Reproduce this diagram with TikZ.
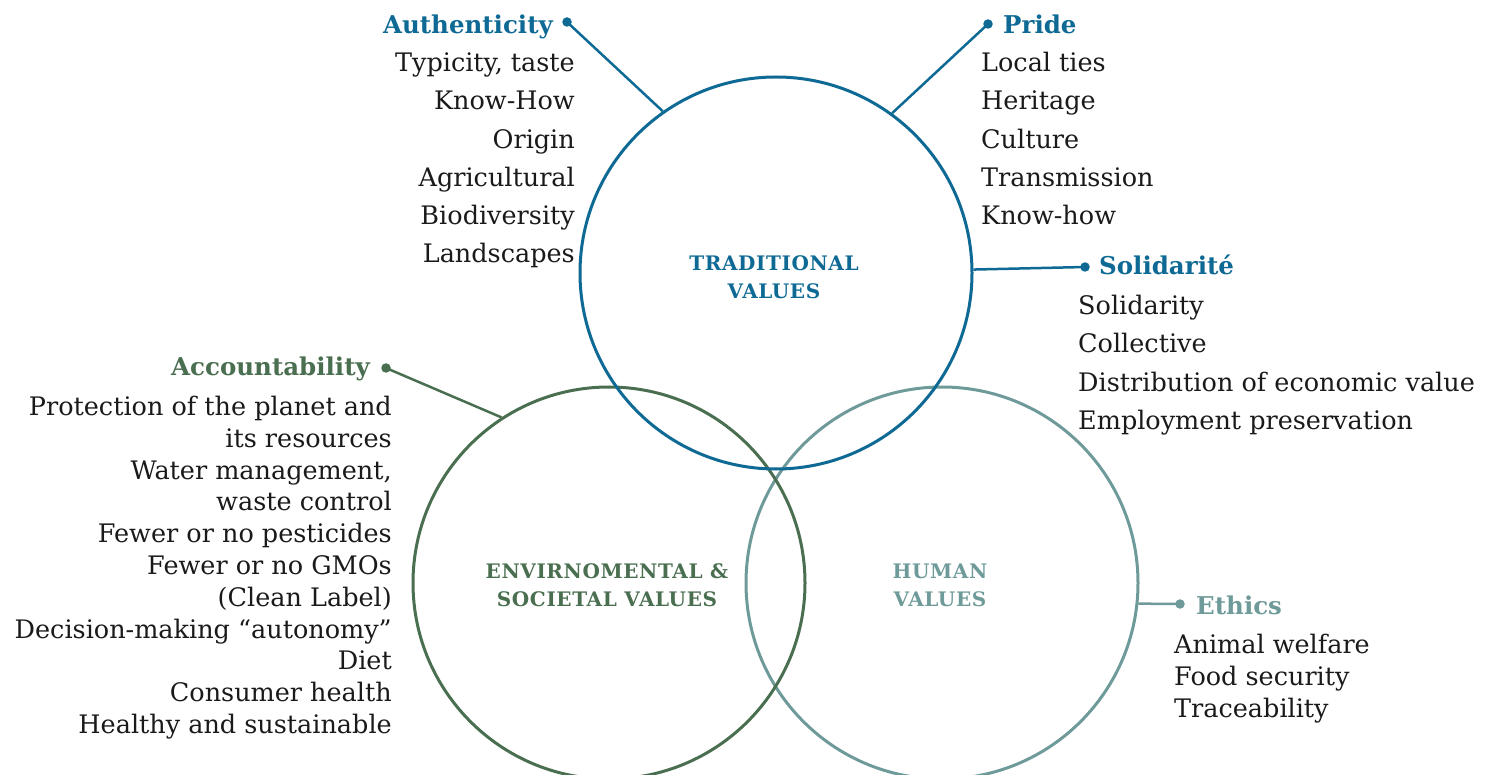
\documentclass[tikz,border=0pt]{standalone}
\usepackage{fontspec}
\setmainfont{DejaVu Serif}
\definecolor{tblue}{HTML}{0E6A94}
\definecolor{egreen}{HTML}{4A6E50}
\definecolor{hteal}{HTML}{6E9A99}
\definecolor{itemc}{HTML}{1A1A1A}
\begin{document}
\begin{tikzpicture}[x=1pt,y=-1pt,
  item/.style={font=\fontsize{25.5}{30}\selectfont, text=itemc, inner sep=0pt},
  head/.style={font=\bfseries\fontsize{24.5}{30}\selectfont, inner sep=0pt},
  ctitle/.style={font=\bfseries\fontsize{20}{26}\selectfont\addfontfeature{LetterSpace=3}, inner sep=0pt, anchor=base},
  ring/.style={draw, circle, line width=3pt, minimum size=392pt, inner sep=0pt},
  conn/.style={line width=2.5pt},
  dot/.style={circle, fill, inner sep=0pt, minimum size=9.5pt}]
\useasboundingbox (0,0) rectangle (1494,775);
\clip (0,0) rectangle (1494,775);
% circles
\node[ring, hteal] (hum) at (942,583) {};
\node[ring, egreen] (env) at (609,583) {};
\node[ring, tblue] (trad) at (776,273) {};
% circle titles
\node[ctitle, text=tblue] (t1) at (774,271) {TRADITIONAL};
\node[ctitle, text=tblue] (t2) at (774,299) {VALUES};
\node[ctitle, text=egreen] (e1) at (607,578) {ENVIRNOMENTAL \&};
\node[ctitle, text=egreen] (e2) at (607,606) {SOCIETAL VALUES};
\node[ctitle, text=hteal] (h1) at (940,578) {HUMAN};
\node[ctitle, text=hteal] (h2) at (940,606) {VALUES};
% Authenticity
\node[head, text=tblue, anchor=base east] (auth) at (553,34) {Authenticity};
\node[dot, tblue] (authdot) at (567,22) {};
\draw[conn, tblue] (authdot.center) -- (trad.125);
\foreach \t [count=\i] in {{Typicity, taste}, Know-How, Origin, Agricultural, Biodiversity, Landscapes}
  \node[item, anchor=base east] (au\i) at (575,{71.5+38.3*(\i-1)}) {\t};
% Pride
\node[head, text=tblue, anchor=base west] (pride) at (1003,34) {Pride};
\node[dot, tblue] (pridedot) at (988,24) {};
\draw[conn, tblue] (pridedot.center) -- (trad.54.4);
\foreach \t [count=\i] in {Local ties, Heritage, Culture, Transmission, Know-how}
  \node[item, anchor=base west] (pr\i) at (981,{71.5+38.3*(\i-1)}) {\t};
% Solidarite
\node[head, text=tblue, anchor=base west] (sol) at (1099,275) {Solidarité};
\node[dot, tblue] (soldot) at (1085,267) {};
\draw[conn, tblue] (trad.1.75) -- (soldot.center);
\foreach \t [count=\i] in {Solidarity, Collective, Distribution of economic value, Employment preservation}
  \node[item, anchor=base west] (so\i) at (1078,{314.5+38.3*(\i-1)}) {\t};
% Accountability
\node[head, text=egreen, anchor=base east] (acc) at (370,376) {Accountability};
\node[dot, egreen] (accdot) at (386,368) {};
\draw[conn, egreen] (accdot.center) -- (env.123.6);
\foreach \t [count=\i] in {Protection of the planet and, its resources, {Water management,}, waste control, Fewer or no pesticides, Fewer or no GMOs, (Clean Label), Decision-making “autonomy”, Diet, Consumer health, Healthy and sustainable}
  \node[item, anchor=base east] (ac\i) at (392,{415.5+31.8*(\i-1)}) {\t};
% Ethics
\node[head, text=hteal, anchor=base west] (eth) at (1196,614) {Ethics};
\node[dot, hteal] (ethdot) at (1180,604) {};
\draw[conn, hteal] (hum.-6.15) -- (ethdot.center);
\foreach \t [count=\i] in {Animal welfare, Food security, Traceability}
  \node[item, anchor=base west] (et\i) at (1174,{653.5+31.8*(\i-1)}) {\t};
\end{tikzpicture}
\end{document}
